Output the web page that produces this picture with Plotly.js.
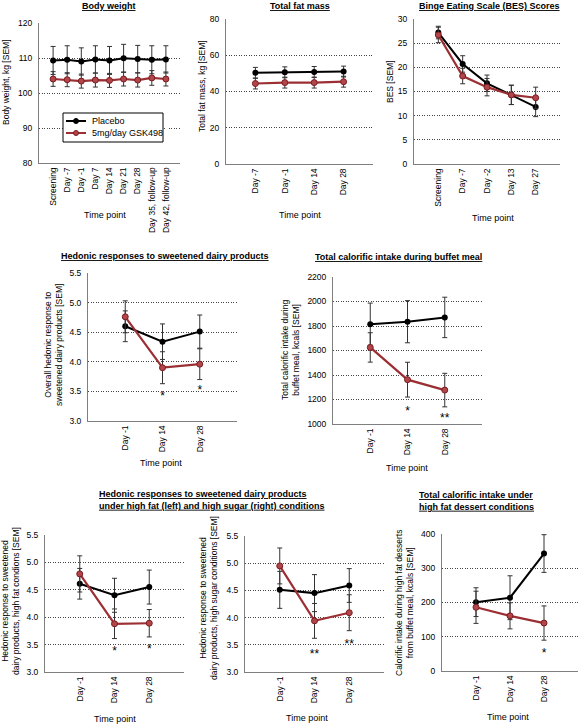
<!DOCTYPE html>
<html>
<head>
<meta charset="utf-8">
<script src="https://cdn.plot.ly/plotly-3.0.1.min.js"></script>
<style>html,body{margin:0;padding:0;background:#fff;}#chart{width:579px;height:725px;}</style>
</head>
<body>
<div id="chart"></div>
<script>
// ---------- DATA ----------
const seriesNames = ['Placebo', '5mg/day GSK498'];

const bwCats = ['Screening','Day -7','Day -1','Day 7','Day 14','Day 21','Day 28','Day 35, follow-up','Day 42, follow-up'];
const bwPlacebo = [109.3,109.5,109.0,109.6,109.3,109.9,109.7,109.5,109.6];
const bwPlaceboErr = [4.0,4.0,3.9,3.9,4.0,4.0,3.9,4.0,3.9];
const bwGsk = [104.0,103.8,103.4,103.7,103.6,104.0,103.7,104.3,104.0];
const bwGskErr = [2.1,2.0,2.0,2.0,2.0,2.0,2.0,2.1,2.0];

const fmCats = ['Day -7','Day -1','Day 14','Day 28'];
const fmPlacebo = [50.3,50.6,50.8,51.0];
const fmPlaceboErr = [3.0,3.0,3.0,3.0];
const fmGsk = [44.4,44.9,44.9,45.4];
const fmGskErr = [3.0,3.0,3.0,3.0];

const besCats = ['Screening','Day -7','Day -2','Day 13','Day 27'];
const besPlacebo = [27.2,20.7,16.7,14.3,11.8];
const besPlaceboErr = [1.3,1.7,1.7,2.0,2.0];
const besGsk = [26.7,18.2,15.9,14.3,13.7];
const besGskErr = [1.6,1.6,1.8,2.0,2.2];

const dayCats = ['Day -1','Day 14','Day 28'];

const hedPlacebo = [4.60,4.34,4.51];
const hedPlaceboErr = [0.26,0.30,0.28];
const hedGsk = [4.76,3.90,3.96];
const hedGskErr = [0.27,0.27,0.26];
const hedStarText = ['*','*'];
const hedStarX = ['Day 14','Day 28'];
const hedStarY = [3.50,3.60];

const calPlacebo = [1815,1835,1870];
const calPlaceboErr = [172,172,165];
const calGsk = [1625,1362,1277];
const calGskErr = [120,142,137];
const calStarText = ['*','**'];
const calStarX = ['Day 14','Day 28'];
const calStarY = [1150,1090];

const hfPlacebo = [4.61,4.40,4.55];
const hfPlaceboErr = [0.28,0.31,0.31];
const hfGsk = [4.79,3.88,3.89];
const hfGskErr = [0.33,0.27,0.25];
const hfStarText = ['*','*'];
const hfStarX = ['Day 14','Day 28'];
const hfStarY = [3.48,3.52];

const hsPlacebo = [4.51,4.45,4.59];
const hsPlaceboErr = [0.34,0.34,0.31];
const hsGsk = [4.95,3.94,4.09];
const hsGskErr = [0.33,0.32,0.33];
const hsStarText = ['**','**'];
const hsStarX = ['Day 14','Day 28'];
const hsStarY = [3.43,3.60];

const hdPlacebo = [201,214,343];
const hdPlaceboErr = [42,64,55];
const hdGsk = [186,161,140];
const hdGskErr = [47,38,50];
const hdStarText = ['*'];
const hdStarX = ['Day 28'];
const hdStarY = [68];

// ---------- STYLE / LAYOUT ----------
const W = 579, H = 725;
const FONT = 'Arial, "Liberation Sans", sans-serif';
const BLACK = '#000000';
const RED = '#9b2f33';
const RED_FILL = '#b2454a';
const RED_EDGE = '#7a1c20';

function xd(a, b) { return [a / W, b / W]; }
function yd(top, bottom) { return [1 - bottom / H, 1 - top / H]; }

const traces = [];
function addPanel(i, cats, pl, plErr, gs, gsErr) {
  const xa = 'x' + (i === 1 ? '' : i), ya = 'y' + (i === 1 ? '' : i);
  traces.push({
    x: cats, y: pl, xaxis: xa, yaxis: ya, name: seriesNames[0], type: 'scatter', mode: 'lines+markers',
    line: { color: BLACK, width: 2 }, marker: { color: BLACK, size: 6, symbol: 'circle' },
    error_y: { type: 'data', array: plErr, visible: true, color: '#333', thickness: 1, width: 2.5 },
    showlegend: false, cliponaxis: false
  });
  traces.push({
    x: cats, y: gs, xaxis: xa, yaxis: ya, name: seriesNames[1], type: 'scatter', mode: 'lines+markers',
    line: { color: RED, width: 2.2 }, marker: { color: RED_FILL, size: 6, symbol: 'circle', line: { color: RED_EDGE, width: 1 } },
    error_y: { type: 'data', array: gsErr, visible: true, color: '#333', thickness: 1, width: 2.5 },
    showlegend: false, cliponaxis: false
  });
}
function addStars(i, sx, sy, st) {
  const xa = 'x' + (i === 1 ? '' : i), ya = 'y' + (i === 1 ? '' : i);
  traces.push({
    x: sx, y: sy, text: st, xaxis: xa, yaxis: ya, mode: 'text', type: 'scatter', textposition: 'bottom center',
    textfont: { family: FONT, size: 12, color: '#000' }, showlegend: false, hoverinfo: 'skip', cliponaxis: false
  });
}

addPanel(1, bwCats, bwPlacebo, bwPlaceboErr, bwGsk, bwGskErr);
addPanel(2, fmCats, fmPlacebo, fmPlaceboErr, fmGsk, fmGskErr);
addPanel(3, besCats, besPlacebo, besPlaceboErr, besGsk, besGskErr);
addPanel(4, dayCats, hedPlacebo, hedPlaceboErr, hedGsk, hedGskErr);
addPanel(5, dayCats, calPlacebo, calPlaceboErr, calGsk, calGskErr);
addPanel(6, dayCats, hfPlacebo, hfPlaceboErr, hfGsk, hfGskErr);
addPanel(7, dayCats, hsPlacebo, hsPlaceboErr, hsGsk, hsGskErr);
addPanel(8, dayCats, hdPlacebo, hdPlaceboErr, hdGsk, hdGskErr);
addStars(4, hedStarX, hedStarY, hedStarText);
addStars(5, calStarX, calStarY, calStarText);
addStars(6, hfStarX, hfStarY, hfStarText);
addStars(7, hsStarX, hsStarY, hsStarText);
addStars(8, hdStarX, hdStarY, hdStarText);

// panel boxes: [x0, x1, top, bottom]
const panels = [
  { box: [39, 180, 23, 163], n: bwCats.length, yr: [80, 120], dt: 10, tf: 'd' },
  { box: [226, 373, 19, 164], n: fmCats.length, yr: [0, 80], dt: 20, tf: 'd' },
  { box: [414, 560, 19, 164], n: besCats.length, yr: [0, 30], dt: 5, tf: 'd' },
  { box: [88, 237, 273, 421], n: 3, yr: [3, 5.5], dt: 0.5, tf: '.1f' },
  { box: [333, 482, 277, 424], n: 3, yr: [1000, 2200], dt: 200, tf: 'd' },
  { box: [45, 184, 535, 672], n: 3, yr: [3, 5.5], dt: 0.5, tf: '.1f' },
  { box: [245, 384, 536, 672], n: 3, yr: [3, 5.5], dt: 0.5, tf: '.1f' },
  { box: [442, 578, 534, 671], n: 3, yr: [0, 400], dt: 100, tf: 'd' }
];

const layout = {
  width: W, height: H,
  margin: { l: 0, r: 0, t: 0, b: 0 },
  paper_bgcolor: '#fff', plot_bgcolor: 'rgba(0,0,0,0)',
  font: { family: FONT, size: 9, color: '#000' },
  showlegend: false,
  annotations: [],
  shapes: [],
  hovermode: false
};

panels.forEach((p, k) => {
  const i = k + 1;
  const xk = 'xaxis' + (i === 1 ? '' : i), yk = 'yaxis' + (i === 1 ? '' : i);
  layout[xk] = {
    domain: xd(p.box[0], p.box[1]), anchor: 'y' + (i === 1 ? '' : i),
    type: 'category', range: [-1, p.n], tickangle: -90,
    showline: true, linecolor: '#7f7f7f', linewidth: 1, ticks: '', showgrid: false, zeroline: false,
    tickfont: { family: FONT, size: 8.5, color: '#000' }, fixedrange: true
  };
  layout[yk] = {
    domain: yd(p.box[2], p.box[3]), anchor: 'x' + (i === 1 ? '' : i),
    range: p.yr, dtick: p.dt, tick0: p.yr[0], tickformat: p.tf,
    showline: true, linecolor: '#7f7f7f', linewidth: 1, ticks: '', zeroline: false,
    showgrid: true, gridcolor: '#444', gridwidth: 1, griddash: '1px,1.5px',
    tickfont: { family: FONT, size: 8.5, color: '#000' }, ticklabelstandoff: 4, fixedrange: true
  };
});

function ann(text, px, py, opts) {
  const a = Object.assign({
    text: text, xref: 'paper', yref: 'paper', x: px / W, y: 1 - py / H,
    xanchor: 'center', yanchor: 'middle', showarrow: false,
    font: { family: FONT, size: 9, color: '#000' }
  }, opts || {});
  layout.annotations.push(a);
}
function px2x(px) { return px / W; }
function py2y(py) { return 1 - py / H; }

// ---- custom legend (box inside Body weight panel) ----
layout.shapes.push({ type: 'rect', xref: 'paper', yref: 'paper', x0: px2x(63), x1: px2x(163), y0: py2y(142), y1: py2y(113),
  line: { color: '#000', width: 1 }, fillcolor: '#fff', layer: 'above' });
[[BLACK, BLACK, BLACK, 121], [RED, RED_FILL, RED_EDGE, 133]].forEach((s, j) => {
  layout.shapes.push({ type: 'line', xref: 'paper', yref: 'paper', x0: px2x(66), x1: px2x(86), y0: py2y(s[3]), y1: py2y(s[3]),
    line: { color: s[0], width: 2 }, layer: 'above' });
  layout.shapes.push({ type: 'circle', xref: 'paper', yref: 'paper', x0: px2x(73.5), x1: px2x(78.5), y0: py2y(s[3] + 2.5), y1: py2y(s[3] - 2.5),
    line: { color: s[2], width: 1 }, fillcolor: s[1], layer: 'above' });
  ann(seriesNames[j], 90, s[3], { xanchor: 'left' });
});

// panel titles
ann('<b><u>Body weight</u></b>', 109, 6);
ann('<b><u>Total fat mass</u></b>', 300, 6);
ann('<b><u>Binge Eating Scale (BES) Scores</u></b>', 489, 6);
ann('<b><u>Hedonic responses to sweetened dairy products</u></b>', 165, 256);
ann('<b><u>Total calorific intake during buffet meal</u></b>', 398, 257);
ann('<b><u>Hedonic responses to sweetened dairy products</u></b><br><b><u>under high fat (left) and high sugar (right) conditions</u></b>', 97, 500, { xanchor: 'left', align: 'left' });
ann('<b><u>Total calorific intake under</u></b><br><b><u>high fat dessert conditions</u></b>', 417, 501, { xanchor: 'left', align: 'left' });

// y-axis titles
const yt = { textangle: -90, font: { family: FONT, size: 8.5, color: '#000' } };
ann('Body weight, kg [SEM]', 6, 82, yt);
ann('Total fat mass, kg [SEM]', 202, 86, yt);
ann('BES [SEM]', 390, 81, yt);
ann('Overall hedonic response to<br>sweetened dairy products [SEM]', 53, 345, yt);
ann('Total calorific intake during<br>buffet meal, kcals [SEM]', 290, 350, yt);
ann('Hedonic response to sweetened<br>dairy products, high fat condions [SEM]', 10, 601, yt);
ann('Hedonic response to sweetened<br>dairy products, high sugar conditions [SEM]', 208, 598, yt);
ann('Calorific intake during high fat desserts<br>from buffet meal, kcals [SEM]', 404, 603, yt);

// x-axis titles
ann('Time point', 105, 215);
ann('Time point', 300, 215);
ann('Time point', 493, 218);
ann('Time point', 161, 463);
ann('Time point', 407, 468);
ann('Time point', 115, 719);
ann('Time point', 307, 718);
ann('Time point', 508, 717);

Plotly.newPlot('chart', traces, layout, { staticPlot: true, displayModeBar: false });
</script>
</body>
</html>
